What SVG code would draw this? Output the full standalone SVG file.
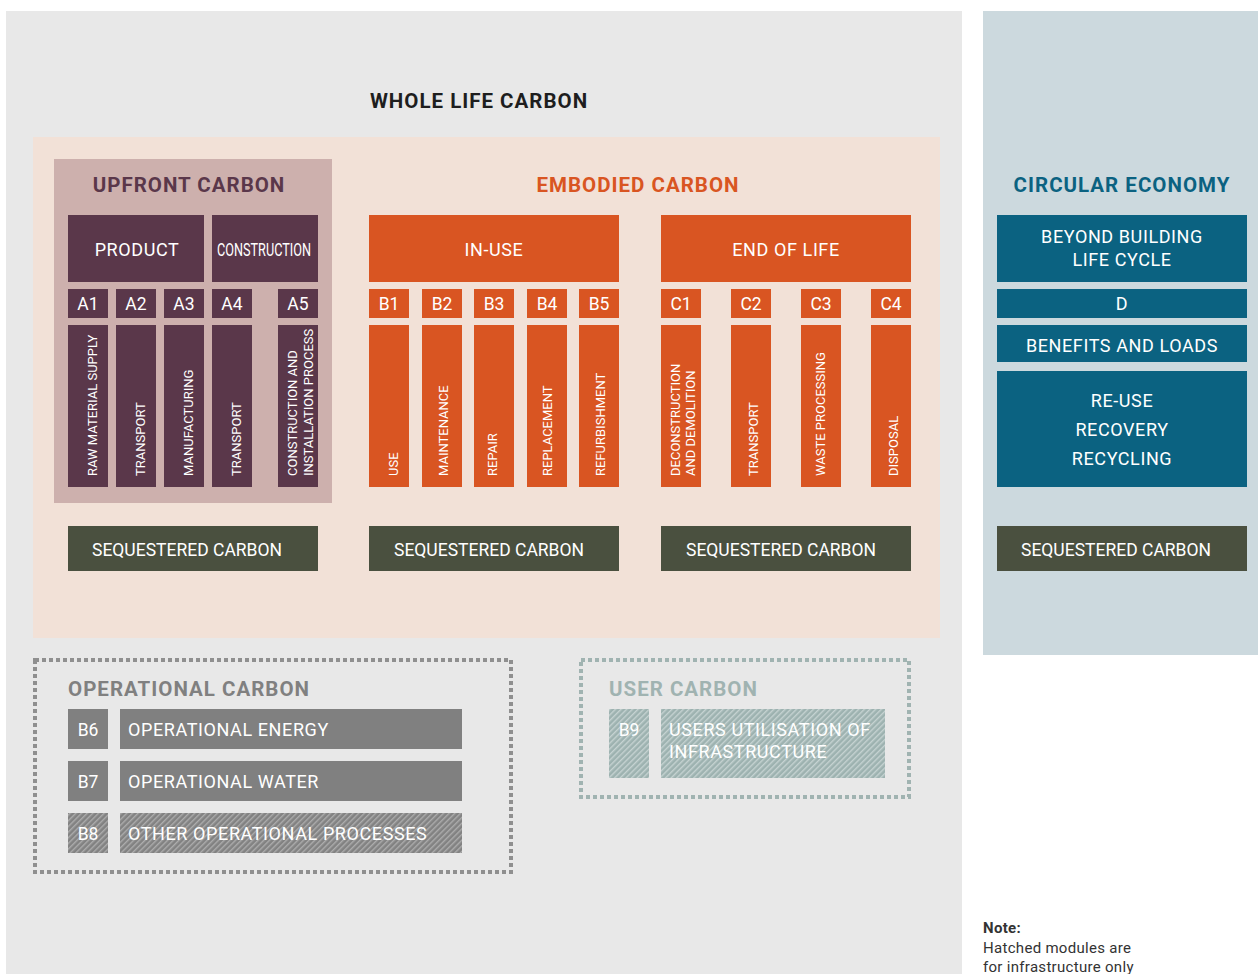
<svg xmlns="http://www.w3.org/2000/svg" width="1258" height="974" viewBox="0 0 1258 974">
  <defs>
    <pattern id="hatch-grey" width="4" height="4" patternUnits="userSpaceOnUse" patternTransform="rotate(45)">
      <rect width="4" height="4" fill="#828282"/>
      <rect width="1.4" height="4" fill="#adadad"/>
    </pattern>
    <pattern id="hatch-sage" width="4" height="4" patternUnits="userSpaceOnUse" patternTransform="rotate(45)">
      <rect width="4" height="4" fill="#9db2b0"/>
      <rect width="1.4" height="4" fill="#c6d3d2"/>
    </pattern>
    <style>
      text { font-family: Roboto, "Liberation Sans", Arial, sans-serif; }
      .title { font-weight: 700; font-size: 20.5px; letter-spacing: 1px; }
      .hdr { fill: #ffffff; font-size: 18px; letter-spacing: 0.6px; text-anchor: middle; }
      .mod { fill: #ffffff; font-size: 17.5px; text-anchor: middle; }
      .vert { fill: #ffffff; font-size: 13px; }
      .lbl { fill: #ffffff; font-size: 18px; letter-spacing: 0.6px; }
      .plum { fill: #5a374a; }
      .orange { fill: #d95522; }
      .teal { fill: #0b6281; }
      .olive { fill: #4a503f; }
      .grey { fill: #808080; }
      .seq { fill: #ffffff; font-size: 17.5px; text-anchor: middle; }
      .note { fill: #333333; font-size: 15px; letter-spacing: 0.3px; }
    </style>
  </defs>

  <!-- background panels -->
  <rect x="0" y="0" width="1258" height="974" fill="#ffffff"/>
  <rect x="6" y="11" width="956" height="963" fill="#e8e8e8"/>
  <rect x="983" y="11" width="275" height="644" fill="#ccd9de"/>
  <rect x="33" y="137" width="907" height="501" fill="#f2e1d7"/>
  <rect x="54" y="159" width="278" height="344" fill="#cdb0ad"/>

  <text class="title" x="479" y="108" text-anchor="middle" fill="#1e1e1e">WHOLE LIFE CARBON</text>
  <text class="title" x="189" y="192" text-anchor="middle" fill="#5a374a">UPFRONT CARBON</text>
  <text class="title" x="638" y="192" text-anchor="middle" fill="#d95522">EMBODIED CARBON</text>
  <text class="title" x="1122" y="192" text-anchor="middle" fill="#0b6281">CIRCULAR ECONOMY</text>

  <!-- upfront: product and construction stages -->
  <g id="product">
    <rect class="plum" x="68" y="215" width="136" height="67"/>
    <text class="hdr" x="137" y="256">PRODUCT</text>
  </g>
  <g id="construction">
    <rect class="plum" x="212" y="215" width="106" height="67"/>
    <text class="hdr" x="264" y="256" textLength="94" lengthAdjust="spacingAndGlyphs" style="letter-spacing:0">CONSTRUCTION</text>
  </g>
  <g id="a1">
    <rect class="plum" x="68" y="289" width="40" height="29"/>
    <text class="mod" x="88" y="309.5">A1</text>
    <rect class="plum" x="68" y="325" width="40" height="162"/>
    <text class="vert" transform="translate(97,476) rotate(-90)">RAW MATERIAL SUPPLY</text>
  </g>
  <g id="a2">
    <rect class="plum" x="116" y="289" width="40" height="29"/>
    <text class="mod" x="136" y="309.5">A2</text>
    <rect class="plum" x="116" y="325" width="40" height="162"/>
    <text class="vert" transform="translate(145,476) rotate(-90)">TRANSPORT</text>
  </g>
  <g id="a3">
    <rect class="plum" x="164" y="289" width="40" height="29"/>
    <text class="mod" x="184" y="309.5">A3</text>
    <rect class="plum" x="164" y="325" width="40" height="162"/>
    <text class="vert" transform="translate(193,476) rotate(-90)">MANUFACTURING</text>
  </g>
  <g id="a4">
    <rect class="plum" x="212" y="289" width="40" height="29"/>
    <text class="mod" x="232" y="309.5">A4</text>
    <rect class="plum" x="212" y="325" width="40" height="162"/>
    <text class="vert" transform="translate(241,476) rotate(-90)">TRANSPORT</text>
  </g>
  <g id="a5">
    <rect class="plum" x="278" y="289" width="40" height="29"/>
    <text class="mod" x="298" y="309.5">A5</text>
    <rect class="plum" x="278" y="325" width="40" height="162"/>
    <text class="vert" transform="translate(297,476) rotate(-90)">CONSTRUCTION AND</text>
    <text class="vert" transform="translate(313,476) rotate(-90)">INSTALLATION PROCESS</text>
  </g>

  <!-- in-use stage -->
  <g id="in-use">
    <rect class="orange" x="369" y="215" width="250" height="67"/>
    <text class="hdr" x="494" y="256">IN-USE</text>
  </g>
  <g id="b1">
    <rect class="orange" x="369" y="289" width="40" height="29"/>
    <text class="mod" x="389" y="309.5">B1</text>
    <rect class="orange" x="369" y="325" width="40" height="162"/>
    <text class="vert" transform="translate(398,476) rotate(-90)">USE</text>
  </g>
  <g id="b2">
    <rect class="orange" x="422" y="289" width="40" height="29"/>
    <text class="mod" x="442" y="309.5">B2</text>
    <rect class="orange" x="422" y="325" width="40" height="162"/>
    <text class="vert" transform="translate(448,476) rotate(-90)">MAINTENANCE</text>
  </g>
  <g id="b3">
    <rect class="orange" x="474" y="289" width="40" height="29"/>
    <text class="mod" x="494" y="309.5">B3</text>
    <rect class="orange" x="474" y="325" width="40" height="162"/>
    <text class="vert" transform="translate(497,476) rotate(-90)">REPAIR</text>
  </g>
  <g id="b4">
    <rect class="orange" x="527" y="289" width="40" height="29"/>
    <text class="mod" x="547" y="309.5">B4</text>
    <rect class="orange" x="527" y="325" width="40" height="162"/>
    <text class="vert" transform="translate(552,476) rotate(-90)">REPLACEMENT</text>
  </g>
  <g id="b5">
    <rect class="orange" x="579" y="289" width="40" height="29"/>
    <text class="mod" x="599" y="309.5">B5</text>
    <rect class="orange" x="579" y="325" width="40" height="162"/>
    <text class="vert" transform="translate(605,476) rotate(-90)">REFURBISHMENT</text>
  </g>

  <!-- end of life stage -->
  <g id="end-of-life">
    <rect class="orange" x="661" y="215" width="250" height="67"/>
    <text class="hdr" x="786" y="256">END OF LIFE</text>
  </g>
  <g id="c1">
    <rect class="orange" x="661" y="289" width="40" height="29"/>
    <text class="mod" x="681" y="309.5">C1</text>
    <rect class="orange" x="661" y="325" width="40" height="162"/>
    <text class="vert" transform="translate(680,476) rotate(-90)">DECONSTRUCTION</text>
    <text class="vert" transform="translate(695,476) rotate(-90)">AND DEMOLITION</text>
  </g>
  <g id="c2">
    <rect class="orange" x="731" y="289" width="40" height="29"/>
    <text class="mod" x="751" y="309.5">C2</text>
    <rect class="orange" x="731" y="325" width="40" height="162"/>
    <text class="vert" transform="translate(758,476) rotate(-90)">TRANSPORT</text>
  </g>
  <g id="c3">
    <rect class="orange" x="801" y="289" width="40" height="29"/>
    <text class="mod" x="821" y="309.5">C3</text>
    <rect class="orange" x="801" y="325" width="40" height="162"/>
    <text class="vert" transform="translate(825,476) rotate(-90)">WASTE PROCESSING</text>
  </g>
  <g id="c4">
    <rect class="orange" x="871" y="289" width="40" height="29"/>
    <text class="mod" x="891" y="309.5">C4</text>
    <rect class="orange" x="871" y="325" width="40" height="162"/>
    <text class="vert" transform="translate(898,476) rotate(-90)">DISPOSAL</text>
  </g>

  <!-- circular economy column -->
  <g id="beyond-building">
    <rect class="teal" x="997" y="215" width="250" height="67"/>
    <text class="hdr" x="1122" y="243">BEYOND BUILDING</text>
    <text class="hdr" x="1122" y="266">LIFE CYCLE</text>
  </g>
  <g id="d">
    <rect class="teal" x="997" y="289" width="250" height="29"/>
    <text class="hdr" x="1122" y="310">D</text>
  </g>
  <g id="benefits-loads">
    <rect class="teal" x="997" y="325" width="250" height="37"/>
    <text class="hdr" x="1122" y="352">BENEFITS AND LOADS</text>
  </g>
  <g id="reuse-recovery-recycling">
    <rect class="teal" x="997" y="371" width="250" height="116"/>
    <text class="hdr" x="1122" y="407">RE-USE</text>
    <text class="hdr" x="1122" y="436">RECOVERY</text>
    <text class="hdr" x="1122" y="465">RECYCLING</text>
  </g>

  <!-- sequestered carbon bars -->
  <g id="seq-upfront">
    <rect class="olive" x="68" y="526" width="250" height="45"/>
    <text class="seq" x="187" y="556">SEQUESTERED CARBON</text>
  </g>
  <g id="seq-in-use">
    <rect class="olive" x="369" y="526" width="250" height="45"/>
    <text class="seq" x="489" y="556">SEQUESTERED CARBON</text>
  </g>
  <g id="seq-end-of-life">
    <rect class="olive" x="661" y="526" width="250" height="45"/>
    <text class="seq" x="781" y="556">SEQUESTERED CARBON</text>
  </g>
  <g id="seq-circular">
    <rect class="olive" x="997" y="526" width="250" height="45"/>
    <text class="seq" x="1116" y="556">SEQUESTERED CARBON</text>
  </g>

  <!-- operational carbon -->
  <g id="operational-carbon">
    <rect x="35" y="660" width="476" height="212" fill="none" stroke="#8f8f8f" stroke-width="4" stroke-dasharray="4 3"/>
    <text class="title" x="68" y="696" fill="#808080">OPERATIONAL CARBON</text>
  </g>
  <g id="b6">
    <rect class="grey" x="68" y="709" width="40" height="40"/>
    <text class="mod" x="88" y="736">B6</text>
    <rect class="grey" x="120" y="709" width="342" height="40"/>
    <text class="lbl" x="128" y="736">OPERATIONAL ENERGY</text>
  </g>
  <g id="b7">
    <rect class="grey" x="68" y="761" width="40" height="40"/>
    <text class="mod" x="88" y="788">B7</text>
    <rect class="grey" x="120" y="761" width="342" height="40"/>
    <text class="lbl" x="128" y="788">OPERATIONAL WATER</text>
  </g>
  <g id="b8">
    <rect x="68" y="813" width="40" height="40" fill="url(#hatch-grey)"/>
    <text class="mod" x="88" y="840">B8</text>
    <rect x="120" y="813" width="342" height="40" fill="url(#hatch-grey)"/>
    <text class="lbl" x="128" y="840">OTHER OPERATIONAL PROCESSES</text>
  </g>

  <!-- user carbon -->
  <g id="user-carbon">
    <rect x="581" y="660" width="328" height="137" fill="none" stroke="#a0b3b1" stroke-width="4" stroke-dasharray="4 3"/>
    <text class="title" x="609" y="696" fill="#a0b3b1">USER CARBON</text>
  </g>
  <g id="b9">
    <rect x="609" y="709" width="40" height="69" fill="url(#hatch-sage)"/>
    <text class="mod" x="629" y="736">B9</text>
    <rect x="661" y="709" width="224" height="69" fill="url(#hatch-sage)"/>
    <text class="lbl" x="669" y="736">USERS UTILISATION OF</text>
    <text class="lbl" x="669" y="758">INFRASTRUCTURE</text>
  </g>

  <!-- note -->
  <g id="note">
    <text class="note" x="983" y="933" font-weight="700">Note:</text>
    <text class="note" x="983" y="953">Hatched modules are</text>
    <text class="note" x="983" y="972">for infrastructure only</text>
  </g>
</svg>
